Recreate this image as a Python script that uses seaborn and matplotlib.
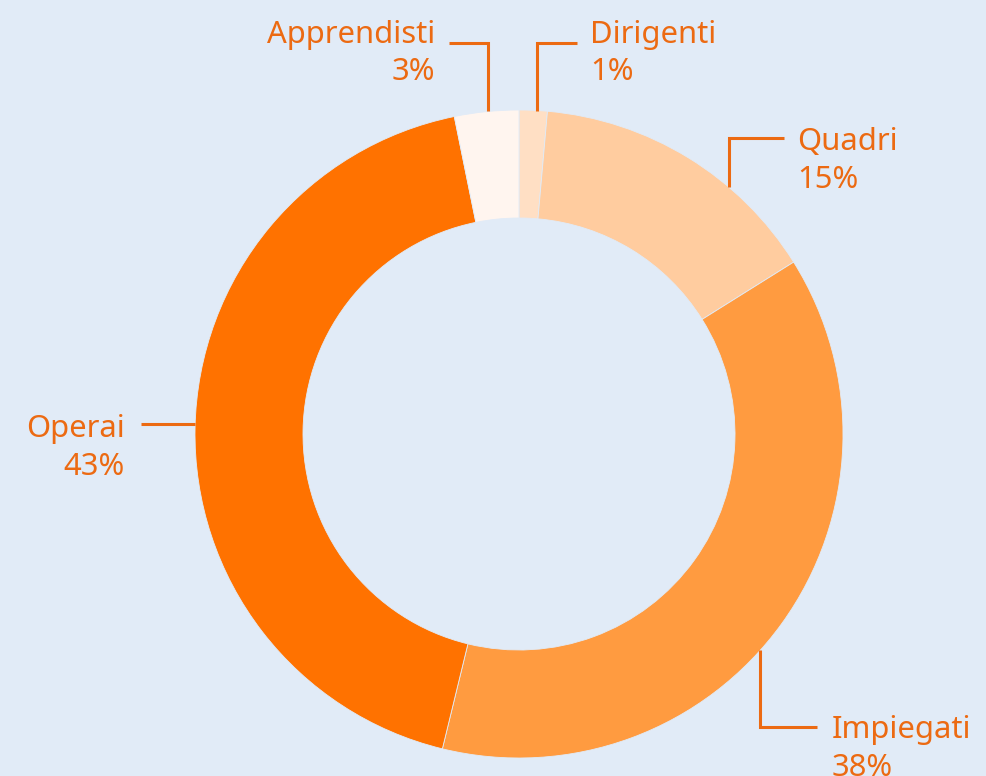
import numpy as np
import seaborn as sns
import matplotlib.pyplot as plt

# ------------------------------
# Data
# ------------------------------
categories = ["Dirigenti", "Quadri", "Impiegati", "Operai", "Apprendisti"]
shares = [1.4, 14.7, 37.7, 43.0, 3.2]          # estimated slice sizes
pct_labels = ["1%", "15%", "38%", "43%", "3%"]  # as printed on the chart
colors = ["#FFDFC4", "#FFCC9F", "#FF9B40", "#FF7200", "#FFF5EF"]

# ------------------------------
# Style
# ------------------------------
sns.set_style("white")
plt.rcParams['font.family'] = ['Noto Sans', 'DejaVu Sans']
bg = "#E1EBF7"
label_color = "#EC6A12"

W, H = 986, 776
fig = plt.figure(figsize=(W / 100, H / 100), dpi=100, facecolor=bg)
ax = fig.add_axes([0, 0, 1, 1])
ax.set_facecolor(bg)

cx, cy, R, ring = 519, H - 434, 324, 108

ax.pie(shares, colors=colors, startangle=90, counterclock=False,
       center=(cx, cy), radius=R,
       wedgeprops=dict(width=ring, edgecolor=bg, linewidth=0.6))

ax.set_xlim(0, W)
ax.set_ylim(0, H)
ax.set_aspect("equal")
ax.axis("off")

# ------------------------------
# Leader lines + labels (layout in pixel coords, y from top)
# anchor angle (deg, clockwise from top), elbow y, line end x, text x, align, baselines
# ------------------------------
layout = {
    "Dirigenti":   dict(ang=3.2,   elbow=43,  end=577, tx=590, ha="left",  base=(43, 80)),
    "Quadri":      dict(ang=40.3,  elbow=138, end=784, tx=797, ha="left",  base=(150, 188)),
    "Impiegati":   dict(ang=131.9, elbow=727, end=817, tx=832, ha="left",  base=(738, 776)),
    "Operai":      dict(ang=-88.3, elbow=None, end=141, tx=125, ha="right", base=(437, 475)),
    "Apprendisti": dict(ang=-5.5,  elbow=43,  end=449, tx=435, ha="right", base=(43, 80)),
}

for cat, pct in zip(categories, pct_labels):
    L = layout[cat]
    a = np.deg2rad(L["ang"])
    x0 = cx + R * np.sin(a)
    y0 = cy + R * np.cos(a)
    if L["elbow"] is None:
        xs, ys = [x0, L["end"]], [y0, y0]
    else:
        ye = H - L["elbow"]
        xs, ys = [x0, x0, L["end"]], [y0, ye, ye]
    ax.plot(xs, ys, color=label_color, lw=2.2, solid_joinstyle="miter",
            solid_capstyle="butt", zorder=3)
    ax.text(L["tx"], H - L["base"][0], cat, ha=L["ha"], va="baseline",
            fontsize=22.3, color=label_color)
    ax.text(L["tx"], H - L["base"][1], pct, ha=L["ha"], va="baseline",
            fontsize=22.3, color=label_color)

plt.savefig("out.png", dpi=100, facecolor=bg)
